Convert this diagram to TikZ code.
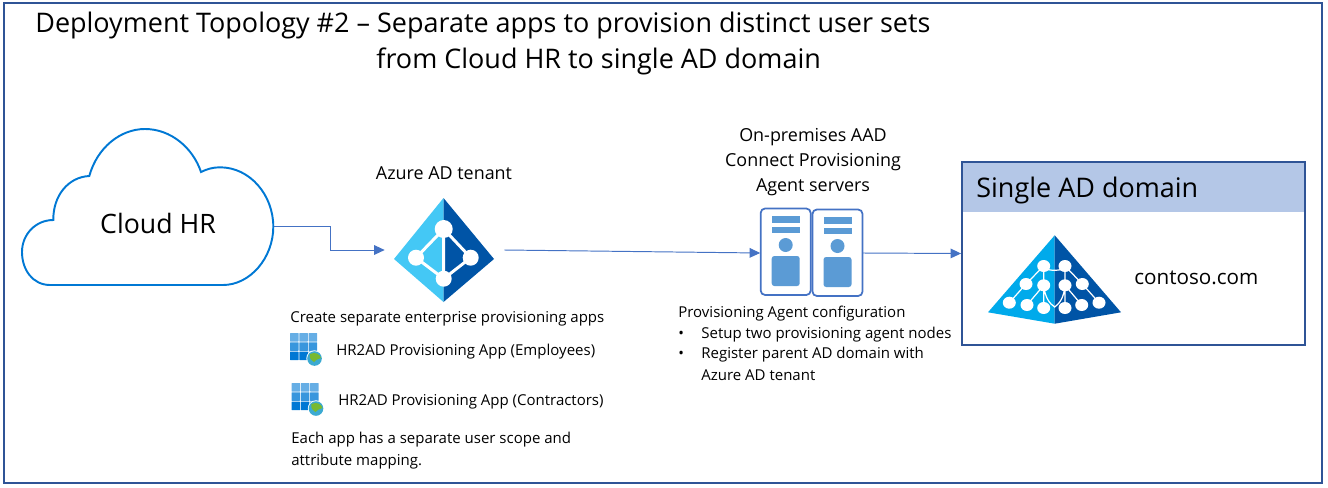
\documentclass[tikz,border=0pt]{standalone}
\usepackage{fontspec}
\setmainfont{Open Sans}
\usetikzlibrary{arrows.meta}
\definecolor{framec}{RGB}{47,84,150}
\definecolor{linkc}{RGB}{68,114,196}
\definecolor{cloudc}{RGB}{0,120,212}
\definecolor{headc}{RGB}{180,199,231}
\definecolor{srvc}{RGB}{91,155,213}
\definecolor{aadl}{RGB}{68,200,245}
\definecolor{aadr}{RGB}{0,84,166}
\definecolor{pyrl}{RGB}{0,170,235}
\definecolor{globec}{RGB}{60,170,210}
\definecolor{landc}{RGB}{120,185,50}
\tikzset{
  link/.style={draw=linkc, line width=0.55pt, -{Triangle[length=6pt,width=5.5pt,fill=linkc]}},
  txt/.style={inner sep=0pt, anchor=west, yshift=-0.8pt, font=\fontsize{8.54}{10}\selectfont},
  mid/.style={inner sep=0pt, font=\fontsize{10.2}{14.2}\selectfont, align=center},
  title/.style={inner sep=0pt, anchor=west, yshift=-1pt, font=\fontsize{15.35}{18}\selectfont},
  srv/.pic={
    \draw[linkc, line width=1pt, rounded corners=2.5pt, fill=white] (-25,-43.5) rectangle (25,43);
    \fill[srvc] (-14,-36) rectangle (14,-29);
    \fill[srvc] (-14,-25) rectangle (14,-19);
    \fill[srvc] (0,-7) circle [radius=7];
    \fill[srvc, rounded corners=1.5pt] (-14,4) rectangle (14,34);
  },
  appicon/.pic={
    \foreach \i in {0,1,2}
      \foreach \j/\c in {0/60,1/78,2/100}
        \fill[cloudc!\c!white, rounded corners=0.3pt] (\i*9.3,\j*9.3) rectangle +(8.6,8.6);
    \fill[white] (24.5,25.5) circle [radius=8.2];
    \fill[globec] (24.5,25.5) circle [radius=7.3];
    \fill[landc] (20,21) .. controls (25,18.5) and (30,21) .. (31,25) .. controls (28,27) and (25,26) .. (24,29) .. controls (21,27) and (19,25) .. cycle;
  }
}
\begin{document}
\begin{tikzpicture}[x=0.02cm, y=-0.02cm]
  \useasboundingbox (0,0) rectangle (1328,487);
  \draw[framec, line width=1.1pt] (4,3) rectangle (1322,483);
  % title
  \node[title] (title1) at (35,24) {Deployment Topology \#2 – Separate apps to provision distinct user sets};
  \node[title] (title2) at (376,60) {from Cloud HR to single AD domain};
  % cloud
  \draw[cloudc, line width=1.1pt] (50,285) .. controls (33,285) and (22,270) .. (22,252)
    .. controls (22,234) and (36,220) .. (53.3,220)
    .. controls (53,196) and (68,177) .. (89.3,176)
    .. controls (97,148) and (120,129) .. (145,129)
    .. controls (171,129) and (193,148) .. (201,172)
    .. controls (207,169) and (213,167.3) .. (220,167.3)
    .. controls (250,167.3) and (273.3,195) .. (273.3,226.7)
    .. controls (273.3,258) and (250,285) .. (223,285) -- cycle;
  \node[inner sep=0pt, font=\fontsize{15.2}{18}\selectfont] (cloudhr) at (158,223) {Cloud HR};
  \coordinate (cloudout) at (273.5,226);
  % aad diamond
  \fill[aadl] (443.5,198) -- (394,259) -- (443.5,302) -- cycle;
  \fill[aadr] (443.5,198) -- (494,259) -- (443.5,302) -- cycle;
  \draw[white, line width=1.7pt] (443.7,229) -- (416,257.7) -- (443.7,278.7) -- (470.7,257.7) -- cycle (443.7,229) -- (443.7,278.7);
  \fill[white] (443.7,229) circle [radius=9] (416,257.7) circle [radius=8] (470.7,257.7) circle [radius=8] (443.7,278.7) circle [radius=8];
  \node[inner sep=0pt, minimum width=2.38cm, minimum height=2cm] (aad) at (444.5,250) {};
  \node[mid] (aadlabel) at (444,173) {Azure AD tenant};
  % servers
  \pic at (785.7,252) {srv};
  \pic at (837.5,253) {srv};
  \node[inner sep=0pt, minimum width=2.04cm, minimum height=1.7cm] (servers) at (811.5,253) {};
  \node[mid, yshift=-1pt] (srvlabel) at (813,160) {On-premises AAD\\Connect Provisioning\\Agent servers};
  % domain box
  \fill[headc] (962,163) rectangle (1305,212);
  \node[draw=framec, line width=1.1pt, inner sep=0pt, minimum width=6.86cm, minimum height=3.66cm] (domain) at (1133.5,253.5) {};
  \node[title] (domainname) at (976,189) {Single AD domain};
  % pyramid
  \fill[pyrl] (1054.7,235.3) -- (988,312.3) -- (1054.7,323.7) -- cycle;
  \fill[aadr] (1054.7,235.3) -- (1121,312.3) -- (1054.7,323.7) -- cycle;
  \draw[white, line width=0.7pt] (1043.7,266) -- (1026,284) -- (1009.3,302.7)
    (1065,266) -- (1082.3,284) -- (1099,302.7)
    (1043.7,266) -- (1043.7,308) (1065,266) -- (1065,308)
    (1043.7,285.3) -- (1027,305) (1065,285.3) -- (1081.7,305)
    (1043.7,268) .. controls (1048,271) and (1061,271) .. (1065,268)
    (1043.7,285.3) .. controls (1045,298) and (1050,304) .. (1054.7,307) .. controls (1059,304) and (1064,298) .. (1065,285.3);
  \foreach \px/\py in {1043.7/266,1065/266,1026/284,1043.7/285.3,1065/285.3,1082.3/284,1009.3/302.7,1027/305,1043.7/308,1065/308,1081.7/305,1099/302.7}
    \fill[white] (\px,\py) circle [x radius=6.5, y radius=6];
  \node[txt, font=\fontsize{11.75}{14}\selectfont] (contoso) at (1134,276) {contoso.com};
  % app text
  \node[txt] (apps) at (290,317) {Create separate enterprise provisioning apps};
  \pic at (290,333) {appicon};
  \node[txt] (app1) at (336,350) {HR2AD Provisioning App (Employees)};
  \pic at (291.5,383) {appicon};
  \node[txt] (app2) at (338,400) {HR2AD Provisioning App (Contractors)};
  \node[txt] (each1) at (291,438) {Each app has a separate user scope and};
  \node[txt] (each2) at (291,460) {attribute mapping.};
  % agent text
  \node[txt] (conf) at (678,312) {Provisioning Agent configuration};
  \node[txt] (bul1) at (678,333) {\textbullet};
  \node[txt] (conf1) at (701,333) {Setup two provisioning agent nodes};
  \node[txt] (bul2) at (678,353) {\textbullet};
  \node[txt] (conf2) at (701,353) {Register parent AD domain with};
  \node[txt] (conf3) at (701,374) {Azure AD tenant};
  % links
  \draw[link] (cloudout) -- (330,226) -- (330,250) -- (aad.west);
  \draw[link] (aad.east) -- (servers.west);
  \draw[link] (servers.east) -- (domain.west);
\end{tikzpicture}
\end{document}
